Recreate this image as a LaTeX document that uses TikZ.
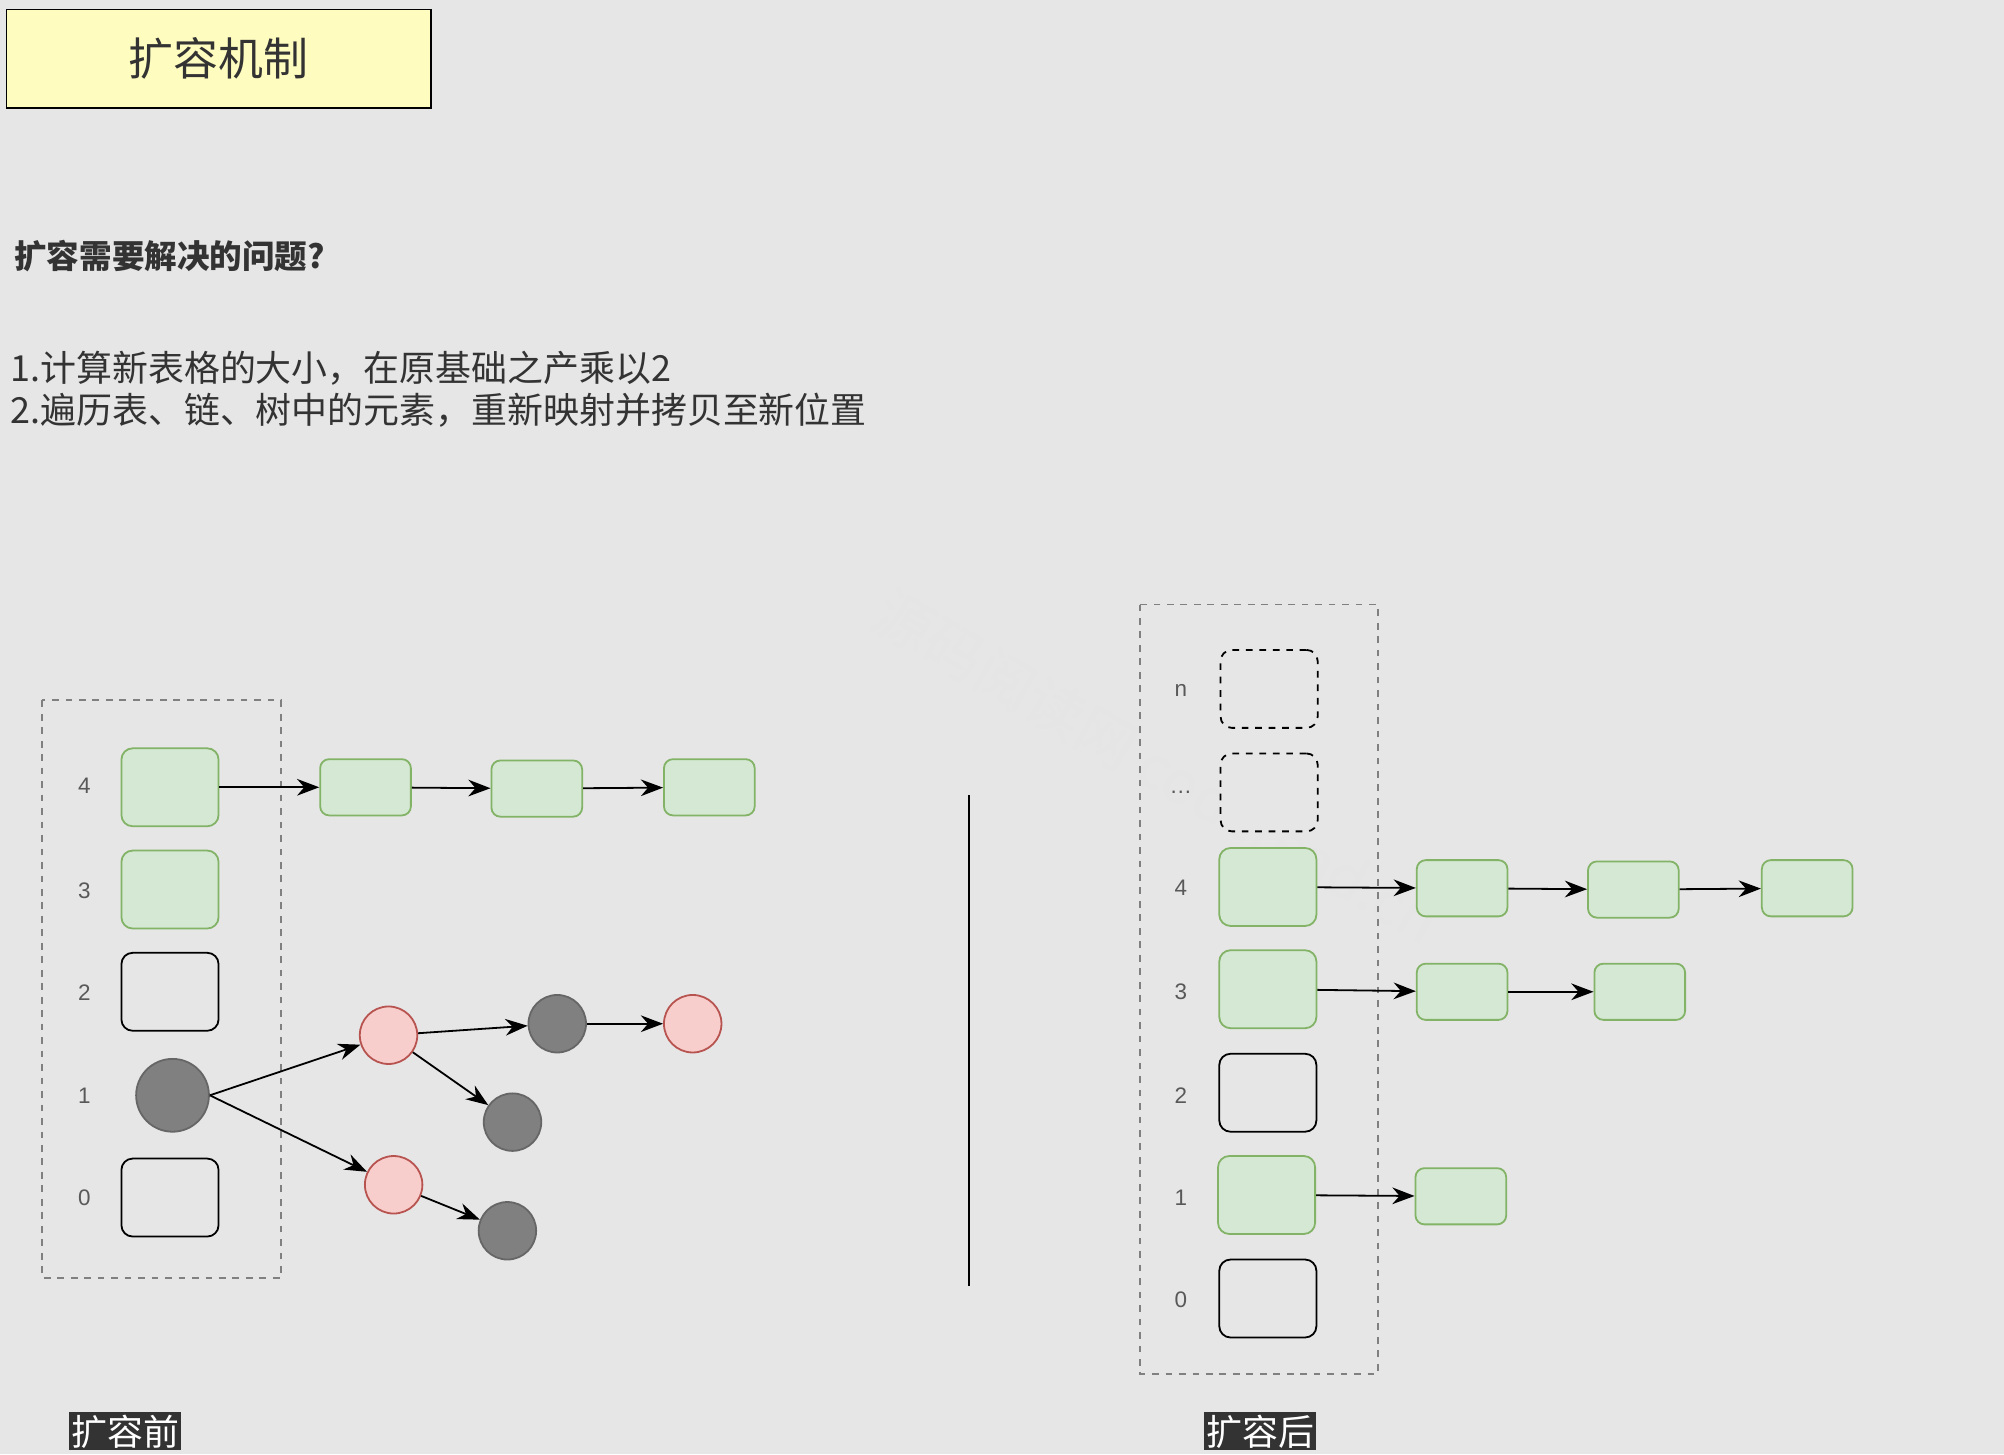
\documentclass[tikz,border=0pt]{standalone}
\usepackage{fontspec}
\setmainfont{Liberation Sans}
\newfontfamily\cjk{Noto Sans CJK SC}
\usetikzlibrary{arrows.meta, positioning}
\definecolor{bgc}{HTML}{E6E6E6}
\definecolor{grfill}{HTML}{D5E8D4}
\definecolor{grline}{HTML}{82B366}
\definecolor{pkfill}{HTML}{F8CECC}
\definecolor{pkline}{HTML}{B85450}
\definecolor{txt}{HTML}{333333}
\begin{document}
\begin{tikzpicture}[x=0.02cm,y=-0.02cm,>={Stealth[scale=1.5]},font=\cjk]

% =========================
% Styles
% =========================
\tikzset{
    slot/.style={draw, thick, rounded corners=5pt, minimum width=1.52cm, minimum height=1.22cm, fill=#1},
    greenslot/.style={slot=grfill, draw=grline},
    dashslot/.style={slot=bgc, dashed},
    item/.style={draw=grline, thick, fill=grfill, rounded corners=4pt, minimum width=1.42cm, minimum height=0.88cm},
    red/.style={circle, draw=pkline, thick, fill=pkfill, minimum size=0.9cm, inner sep=0pt},
    black/.style={circle, draw=black!60, thick, fill=black!50, minimum size=0.9cm, inner sep=0pt},
    idx/.style={text=black!65, font=\fontsize{10}{12}\selectfont},
    link/.style={->, thick},
    tag/.style={fill=black!80, text=white, inner sep=1pt, font=\cjk\fontsize{16}{18}\selectfont},
    frame/.style={draw=black!50, thick, dashed}
}

\fill[bgc] (0,0) rectangle (1568,1138);
\useasboundingbox (0,0) rectangle (1568,1138);

% watermark
\node[rotate=-30, text=black!10, font=\cjk\fontsize{26}{28}\selectfont] (mark) at (905,600) {源码阅读网 coderead.cn};

% =========================
% Header
% =========================
\node[draw, thick, fill=yellow!25, minimum width=6.64cm, minimum height=1.54cm, font=\cjk\fontsize{20}{24}\selectfont, text=txt] (title) at (171,46) {扩容机制};
\node[anchor=west, text=txt, font=\cjk\bfseries\fontsize{14.5}{17}\selectfont] (question) at (5,200) {扩容需要解决的问题?};
\node[anchor=west, text=txt, font=\cjk\fontsize{16}{19}\selectfont] (step1) at (2,288) {1.计算新表格的大小，在原基础之产乘以2};
\node[anchor=west, text=txt, font=\cjk\fontsize{16}{19}\selectfont] (step2) at (2,321) {2.遍历表、链、树中的元素，重新映射并拷贝至新位置};

% =========================
% Before
% =========================
\draw[frame] (33,548) rectangle (220,1000);
\node[greenslot] (a4) at (133,616) {};
\node[greenslot] (a3) at (133,696) {};
\node[slot=bgc] (a2) at (133,776) {};
\node[black, minimum size=1.14cm] (a1) at (135,857) {};
\node[slot=bgc] (a0) at (133,937) {};
\foreach \n/\y in {4/615,3/697,2/777,1/857,0/937}
    \node[idx] (la\n) at (66,\y) {\n};

\node[item] (b1) at (286,616) {};
\node[item] (b2) at (420,617) {};
\node[item] (b3) at (555,616) {};
\draw[link] (a4) -- (b1);
\draw[link] (b1) -- (b2);
\draw[link] (b2) -- (b3);

\node[red] (r1) at (304,810) {};
\node[black] (k1) at (436,801) {};
\node[red] (r2) at (542,801) {};
\node[black] (k2) at (401,878) {};
\node[red] (r3) at (308,927) {};
\node[black] (k3) at (397,963) {};
\draw[link] (a1.east) -- (r1);
\draw[link] (a1.east) -- (r3);
\draw[link] (r1) -- (k1);
\draw[link] (k1) -- (r2);
\draw[link] (r1) -- (k2);
\draw[link] (r3) -- (k3);

\coordinate (sepTop) at (758,622);
\coordinate (sepBot) at (758,1006);
\draw[thick] (sepTop) -- (sepBot);

% =========================
% After
% =========================
\draw[frame] (892,473) rectangle (1078,1075);
\node[dashslot] (sn) at (993,539) {};
\node[dashslot] (sd) at (993,620) {};
\node[greenslot] (s4) at (992,694) {};
\node[greenslot] (s3) at (992,774) {};
\node[slot=bgc] (s2) at (992,855) {};
\node[greenslot] (s1) at (991,935) {};
\node[slot=bgc] (s0) at (992,1016) {};
\foreach \n/\t/\y in {n/n/540,d/{\dots}/620,4/4/695,3/3/776,2/2/857,1/1/937,0/0/1017}
    \node[idx] (ls\n) at (924,\y) {\t};

\node[item] (c1) at (1144,695) {};
\node[item] (c2) at (1278,696) {};
\node[item] (c3) at (1414,695) {};
\draw[link] (s4) -- (c1);
\draw[link] (c1) -- (c2);
\draw[link] (c2) -- (c3);

\node[item] (d1) at (1144,776) {};
\node[item] (d2) at (1283,776) {};
\draw[link] (s3) -- (d1);
\draw[link] (d1) -- (d2);

\node[item] (e1) at (1143,936) {};
\draw[link] (s1) -- (e1);

% =========================
% Captions
% =========================
\node[tag] (before) at (98,1120) {扩容前};
\node[tag] (after) at (986,1120) {扩容后};

\end{tikzpicture}
\end{document}
